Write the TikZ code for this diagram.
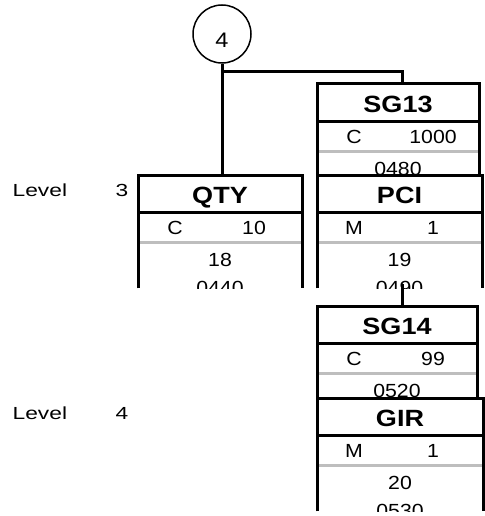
\documentclass[tikz,border=0pt]{standalone}
\usepackage{fontspec}
\setmainfont{Liberation Sans}
\newfontfamily\boxfont[FakeStretch=1.12]{Liberation Sans}
\newfontfamily\levelfont[FakeStretch=1.3]{Liberation Sans}
\newfontfamily\titlefont[FakeStretch=1.15]{Liberation Sans Bold}
\definecolor{rowgray}{RGB}{190,190,190}
\newcommand\mybox[9]{%
\begin{scope}
\clip (#2-3,#4-3) rectangle (#3+3,#4+113);
\node[name=#1, anchor=north west, inner sep=0, minimum width={#3-#2}, minimum height=113, fill=white] at (#2,#4) {};
\draw[grayline] (#2,#4+67) -- (#3,#4+67);
\draw[boxline] (#2,#4+37) -- (#3,#4+37);
\draw[boxline] (#1.south west) -- (#1.north west) -- (#1.north east) -- (#1.south east);
\node[ttl, name=#1-t] at (#2/2+#3/2,#4+28.5) {#5};
\node[txt, name=#1-s] at (#2+37,#4+59) {#6};
\node[txt, name=#1-n] at (#2+116,#4+59) {#7};
\node[txt, name=#1-a] at (#2/2+#3/2,#4+91.5) {#8};
\node[txt, name=#1-b] at (#2/2+#3/2,#4+119) {#9};
\end{scope}}
\begin{document}
\begin{tikzpicture}[x=1pt,y=-1pt,
  boxline/.style={line width=3pt},
  conn/.style={line width=3pt},
  grayline/.style={line width=3pt, draw=rowgray},
  ttl/.style={font=\titlefont\fontsize{23.5}{27}\selectfont, inner sep=0, anchor=base},
  txt/.style={font=\boxfont\fontsize{19}{22}\selectfont, inner sep=0, anchor=base},
  lvl/.style={font=\levelfont\fontsize{17.5}{20}\selectfont, inner sep=0, anchor=base},
]
\useasboundingbox (0,0) rectangle (484,516);
\coordinate (bus) at (402,0);
\node[circle, draw, line width=1.5pt, minimum size=58, inner sep=0] (c4) at (222,34) {};
\node[txt, font=\boxfont\fontsize{21}{24}\selectfont] (c4t) at (222,48) {4};
\mybox{sg13}{317}{479}{84}{SG13}{C}{1000}{0480}{}
\mybox{qty}{138}{302}{175}{QTY}{C}{10}{18}{0440}
\mybox{pci}{317}{482}{175}{PCI}{M}{1}{19}{0490}
\draw[conn] (c4.south) -- (c4.south |- qty.north);
\coordinate (j) at (c4.south |- 0,72);
\draw[conn] (j) -| (sg13.north -| bus);
\mybox{sg14}{317}{477}{306}{SG14}{C}{99}{0520}{}
\draw[conn] ([yshift=4pt]pci.south -| bus) -- (sg14.north -| bus);
\mybox{gir}{317}{483}{398}{GIR}{M}{1}{20}{0530}
\node[lvl, anchor=base west] (l3) at (12.5,196) {Level};
\node[lvl] (l3n) at (122,196) {3};
\node[lvl, anchor=base west] (l4) at (12.5,419) {Level};
\node[lvl] (l4n) at (122,419) {4};
\end{tikzpicture}
\end{document}
